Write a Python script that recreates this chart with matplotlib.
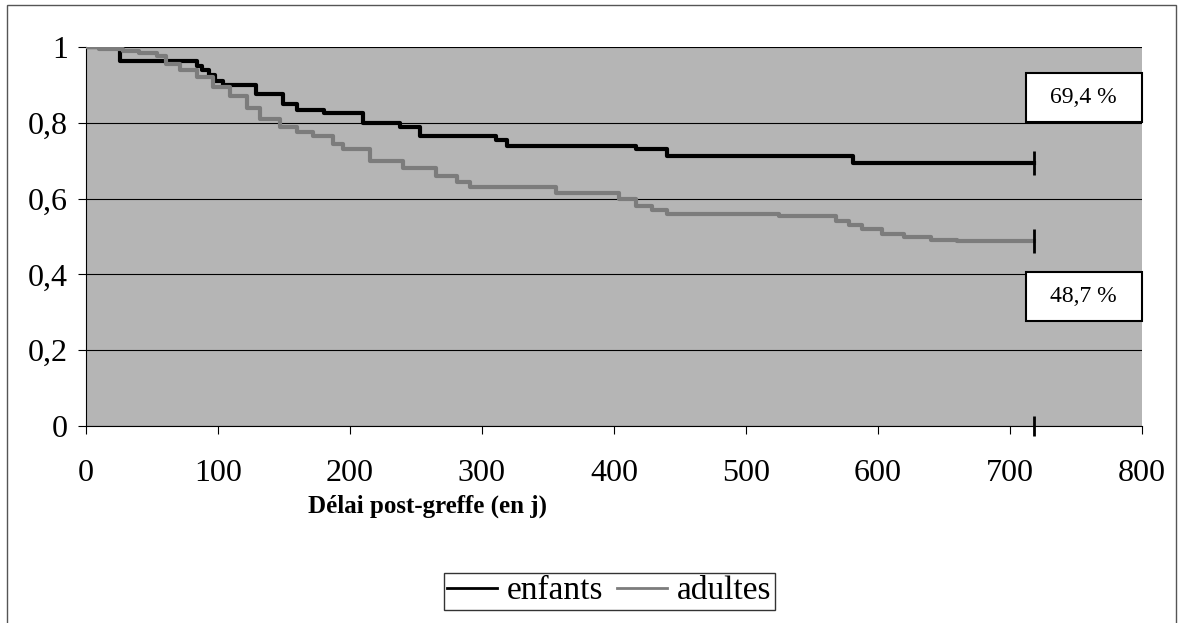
import numpy as np
import matplotlib.pyplot as plt
from matplotlib.patches import Rectangle
from matplotlib.lines import Line2D

plt.rcParams['font.family'] = ['Liberation Serif', 'DejaVu Serif']

# Kaplan-Meier style survival curves
t_enfants = [0, 26, 84, 88, 93, 98, 104, 129, 149, 160, 180, 210, 238, 253,
             311, 319, 417, 440, 581, 718]
s_enfants = [1.0, 0.963, 0.95, 0.94, 0.925, 0.91, 0.90, 0.875, 0.85, 0.835,
             0.825, 0.80, 0.79, 0.765, 0.755, 0.74, 0.73, 0.713, 0.694, 0.694]

t_adultes = [0, 10, 28, 40, 54, 61, 71, 84, 96, 109, 122, 132, 147, 160, 172,
             187, 195, 215, 240, 265, 281, 291, 356, 404, 417, 429, 440, 525,
             568, 578, 588, 603, 620, 640, 660, 718]
s_adultes = [1.0, 0.995, 0.99, 0.985, 0.975, 0.955, 0.94, 0.92, 0.895, 0.87,
             0.84, 0.81, 0.79, 0.775, 0.765, 0.745, 0.73, 0.70, 0.68, 0.66,
             0.645, 0.63, 0.615, 0.60, 0.58, 0.57, 0.56, 0.553, 0.54, 0.53,
             0.52, 0.508, 0.50, 0.492, 0.487, 0.487]

end_day = 718
labels = ['69,4 %', '48,7 %']
xticks = [0, 100, 200, 300, 400, 500, 600, 700, 800]
yticks = [0, 0.2, 0.4, 0.6, 0.8, 1.0]
ytick_labels = ['0', '0,2', '0,4', '0,6', '0,8', '1']

fig = plt.figure(figsize=(11.81, 6.23), dpi=100)
ax = fig.add_axes([0.0728, 0.316, 0.894, 0.6086])
ax.set_facecolor('#b5b5b5')

ax.step(t_enfants, s_enfants, where='post', color='black', lw=3.0, zorder=3)
ax.step(t_adultes, s_adultes, where='post', color='#7c7c7c', lw=3.0, zorder=3)

# censoring ticks at the end of follow-up
ax.plot([end_day], [s_enfants[-1]], marker='|', ms=17, mew=2, color='black',
        zorder=4, clip_on=False)
ax.plot([end_day], [s_adultes[-1]], marker='|', ms=17, mew=2, color='black',
        zorder=4, clip_on=False)
ax.plot([end_day], [0.0], marker='|', ms=14, mew=2, color='black',
        zorder=4, clip_on=False)

ax.set_xlim(0, 800)
ax.set_ylim(0, 1)
ax.set_xticks(xticks)
ax.set_yticks(yticks)
ax.set_yticklabels(ytick_labels)
ax.tick_params(labelsize=23, length=6, width=0.8, direction='out')
ax.tick_params(axis='x', pad=18)
ax.tick_params(axis='y', pad=7)
ax.grid(axis='y', color='black', lw=0.8)
ax.set_axisbelow(True)
for side in ['top', 'right']:
    ax.spines[side].set_visible(False)

# value boxes on the right
ax.add_patch(Rectangle((712, 0.802), 88, 0.129, facecolor='white',
                       edgecolor='black', lw=1.5, zorder=5, clip_on=False))
ax.text(756, 0.866, labels[0], ha='center', va='center', fontsize=17, zorder=6)
ax.add_patch(Rectangle((712, 0.277), 88, 0.129, facecolor='white',
                       edgecolor='black', lw=1.5, zorder=5, clip_on=False))
ax.text(756, 0.341, labels[1], ha='center', va='center', fontsize=17, zorder=6)

fig.text(0.362, 0.188, 'Délai post-greffe (en j)', ha='center', va='center',
         fontsize=18, fontweight='bold')

handles = [Line2D([], [], color='black', lw=2),
           Line2D([], [], color='#7c7c7c', lw=2)]
leg = fig.legend(handles, ['enfants', 'adultes'], loc='center',
                 bbox_to_anchor=(0.516, 0.051), ncol=2, fontsize=24,
                 frameon=True, fancybox=False, handlelength=1.5,
                 handletextpad=0.3, columnspacing=0.4, borderpad=0.1)
leg.get_frame().set_edgecolor('black')
leg.get_frame().set_linewidth(1.0)

# outer chart border
fig.add_artist(Rectangle((0.006, -0.01), 0.99, 1.002, transform=fig.transFigure,
                         fill=False, edgecolor='#555555', lw=1.0))

fig.savefig('out.png', dpi=100)
